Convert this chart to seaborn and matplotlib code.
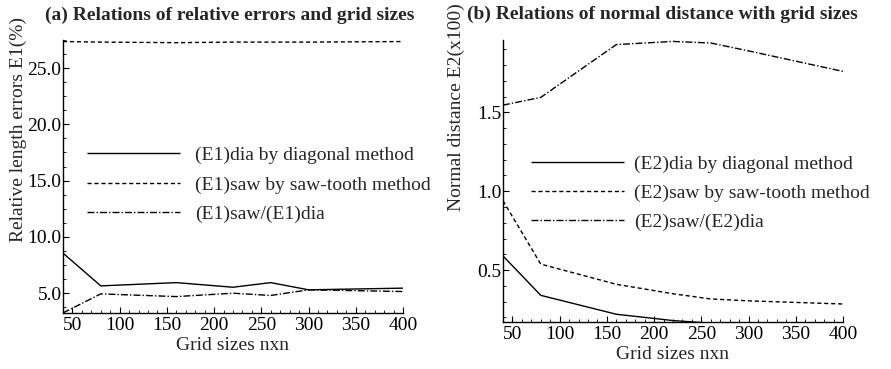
import matplotlib
matplotlib.use("Agg")
import matplotlib.pyplot as plt
from matplotlib.ticker import MultipleLocator, AutoMinorLocator, FormatStrFormatter
import seaborn as sns
import pandas as pd

# Grid sizes (n for an n x n grid)
grid_sizes = [40, 80, 160, 220, 260, 300, 400]

# (a) relative length errors E1 (%)
e1_dia = [8.56, 5.65, 5.94, 5.53, 5.94, 5.30, 5.45]
e1_saw = [27.35, 27.30, 27.25, 27.30, 27.30, 27.30, 27.35]
e1_ratio = [3.25, 4.94, 4.70, 5.00, 4.80, 5.30, 5.15]

# (b) normal distance E2 (x100)
e2_dia = [0.59, 0.34, 0.22, 0.18, 0.163, 0.16, 0.162]
e2_saw = [0.94, 0.538, 0.41, 0.35, 0.317, 0.305, 0.285]
e2_ratio = [1.546, 1.595, 1.93, 1.95, 1.94, 1.89, 1.76]

labels_a = ["(E1)dia by diagonal method", "(E1)saw by saw-tooth method", "(E1)saw/(E1)dia"]
labels_b = ["(E2)dia by diagonal method", "(E2)saw by saw-tooth method", "(E2)saw/(E2)dia"]

sns.set_style("ticks")
plt.rcParams["font.family"] = ["Liberation Serif", "DejaVu Serif"]

FS = 14
styles = [(0, ()), (0, (3, 2)), (0, (5, 1.5, 1, 1.5))]

fig = plt.figure(figsize=(8.91, 3.69), dpi=100)
ax_a = fig.add_axes([0.0707, 0.152, 0.3816, 0.740])
ax_b = fig.add_axes([0.5645, 0.127, 0.3816, 0.765])


def draw(ax, series, labels):
    frames = []
    for vals, lab in zip(series, labels):
        frames.append(pd.DataFrame({"n": grid_sizes, "v": vals, "s": lab}))
    df = pd.concat(frames, ignore_index=True)
    for (lab, sub), ls in zip(df.groupby("s", sort=False), styles):
        sns.lineplot(data=sub, x="n", y="v", ax=ax, color="black", lw=1.0,
                     linestyle=ls, label=lab)


def style_axes(ax, ylim, ymaj, yminor_div):
    ax.set_xlim(40, 400)
    ax.set_ylim(*ylim)
    ax.xaxis.set_major_locator(MultipleLocator(50))
    ax.xaxis.set_minor_locator(MultipleLocator(10))
    ax.yaxis.set_major_locator(MultipleLocator(ymaj))
    ax.yaxis.set_minor_locator(AutoMinorLocator(yminor_div))
    ax.yaxis.set_major_formatter(FormatStrFormatter("%.1f"))
    ax.tick_params(which="both", direction="in", labelsize=FS, colors="black")
    ax.tick_params(axis="x", pad=3)
    ax.tick_params(axis="y", pad=1)
    ax.tick_params(which="major", length=4, width=0.8)
    ax.tick_params(which="minor", length=2, width=0.6)
    for side in ("top", "right"):
        ax.spines[side].set_visible(False)
    for side in ("left", "bottom"):
        ax.spines[side].set_linewidth(1.0)
        ax.spines[side].set_color("black")
    ax.set_xlabel("Grid sizes nxn", fontsize=FS, labelpad=2)


legend_kw = dict(loc="center left", frameon=False, fontsize=FS, handlelength=4.8,
                 labelspacing=0.6, borderpad=0, borderaxespad=0)

draw(ax_a, [e1_dia, e1_saw, e1_ratio], labels_a)
style_axes(ax_a, (3.25, 27.5), 5, 4)
ax_a.set_ylabel("Relative length errors E1(%)", fontsize=FS)
ax_a.yaxis.set_label_coords(-0.106, 0.67)
ax_a.set_title("(a) Relations of relative errors and grid sizes",
               fontsize=FS, fontweight="bold", pad=14, x=0.49)
ax_a.legend(bbox_to_anchor=(0.07, 0.469), handletextpad=0.75, **legend_kw)

draw(ax_b, [e2_dia, e2_saw, e2_ratio], labels_b)
style_axes(ax_b, (0.17, 1.96), 0.5, 5)
ax_b.set_ylabel("Normal distance E2(x100)", fontsize=FS)
ax_b.yaxis.set_label_coords(-0.112, 0.76)
ax_b.set_title("(b) Relations of normal distance with grid sizes",
               fontsize=FS, fontweight="bold", pad=15, x=0.47)
ax_b.legend(bbox_to_anchor=(0.082, 0.457), handletextpad=0.5, **legend_kw)

fig.savefig("out.png", dpi=100)
